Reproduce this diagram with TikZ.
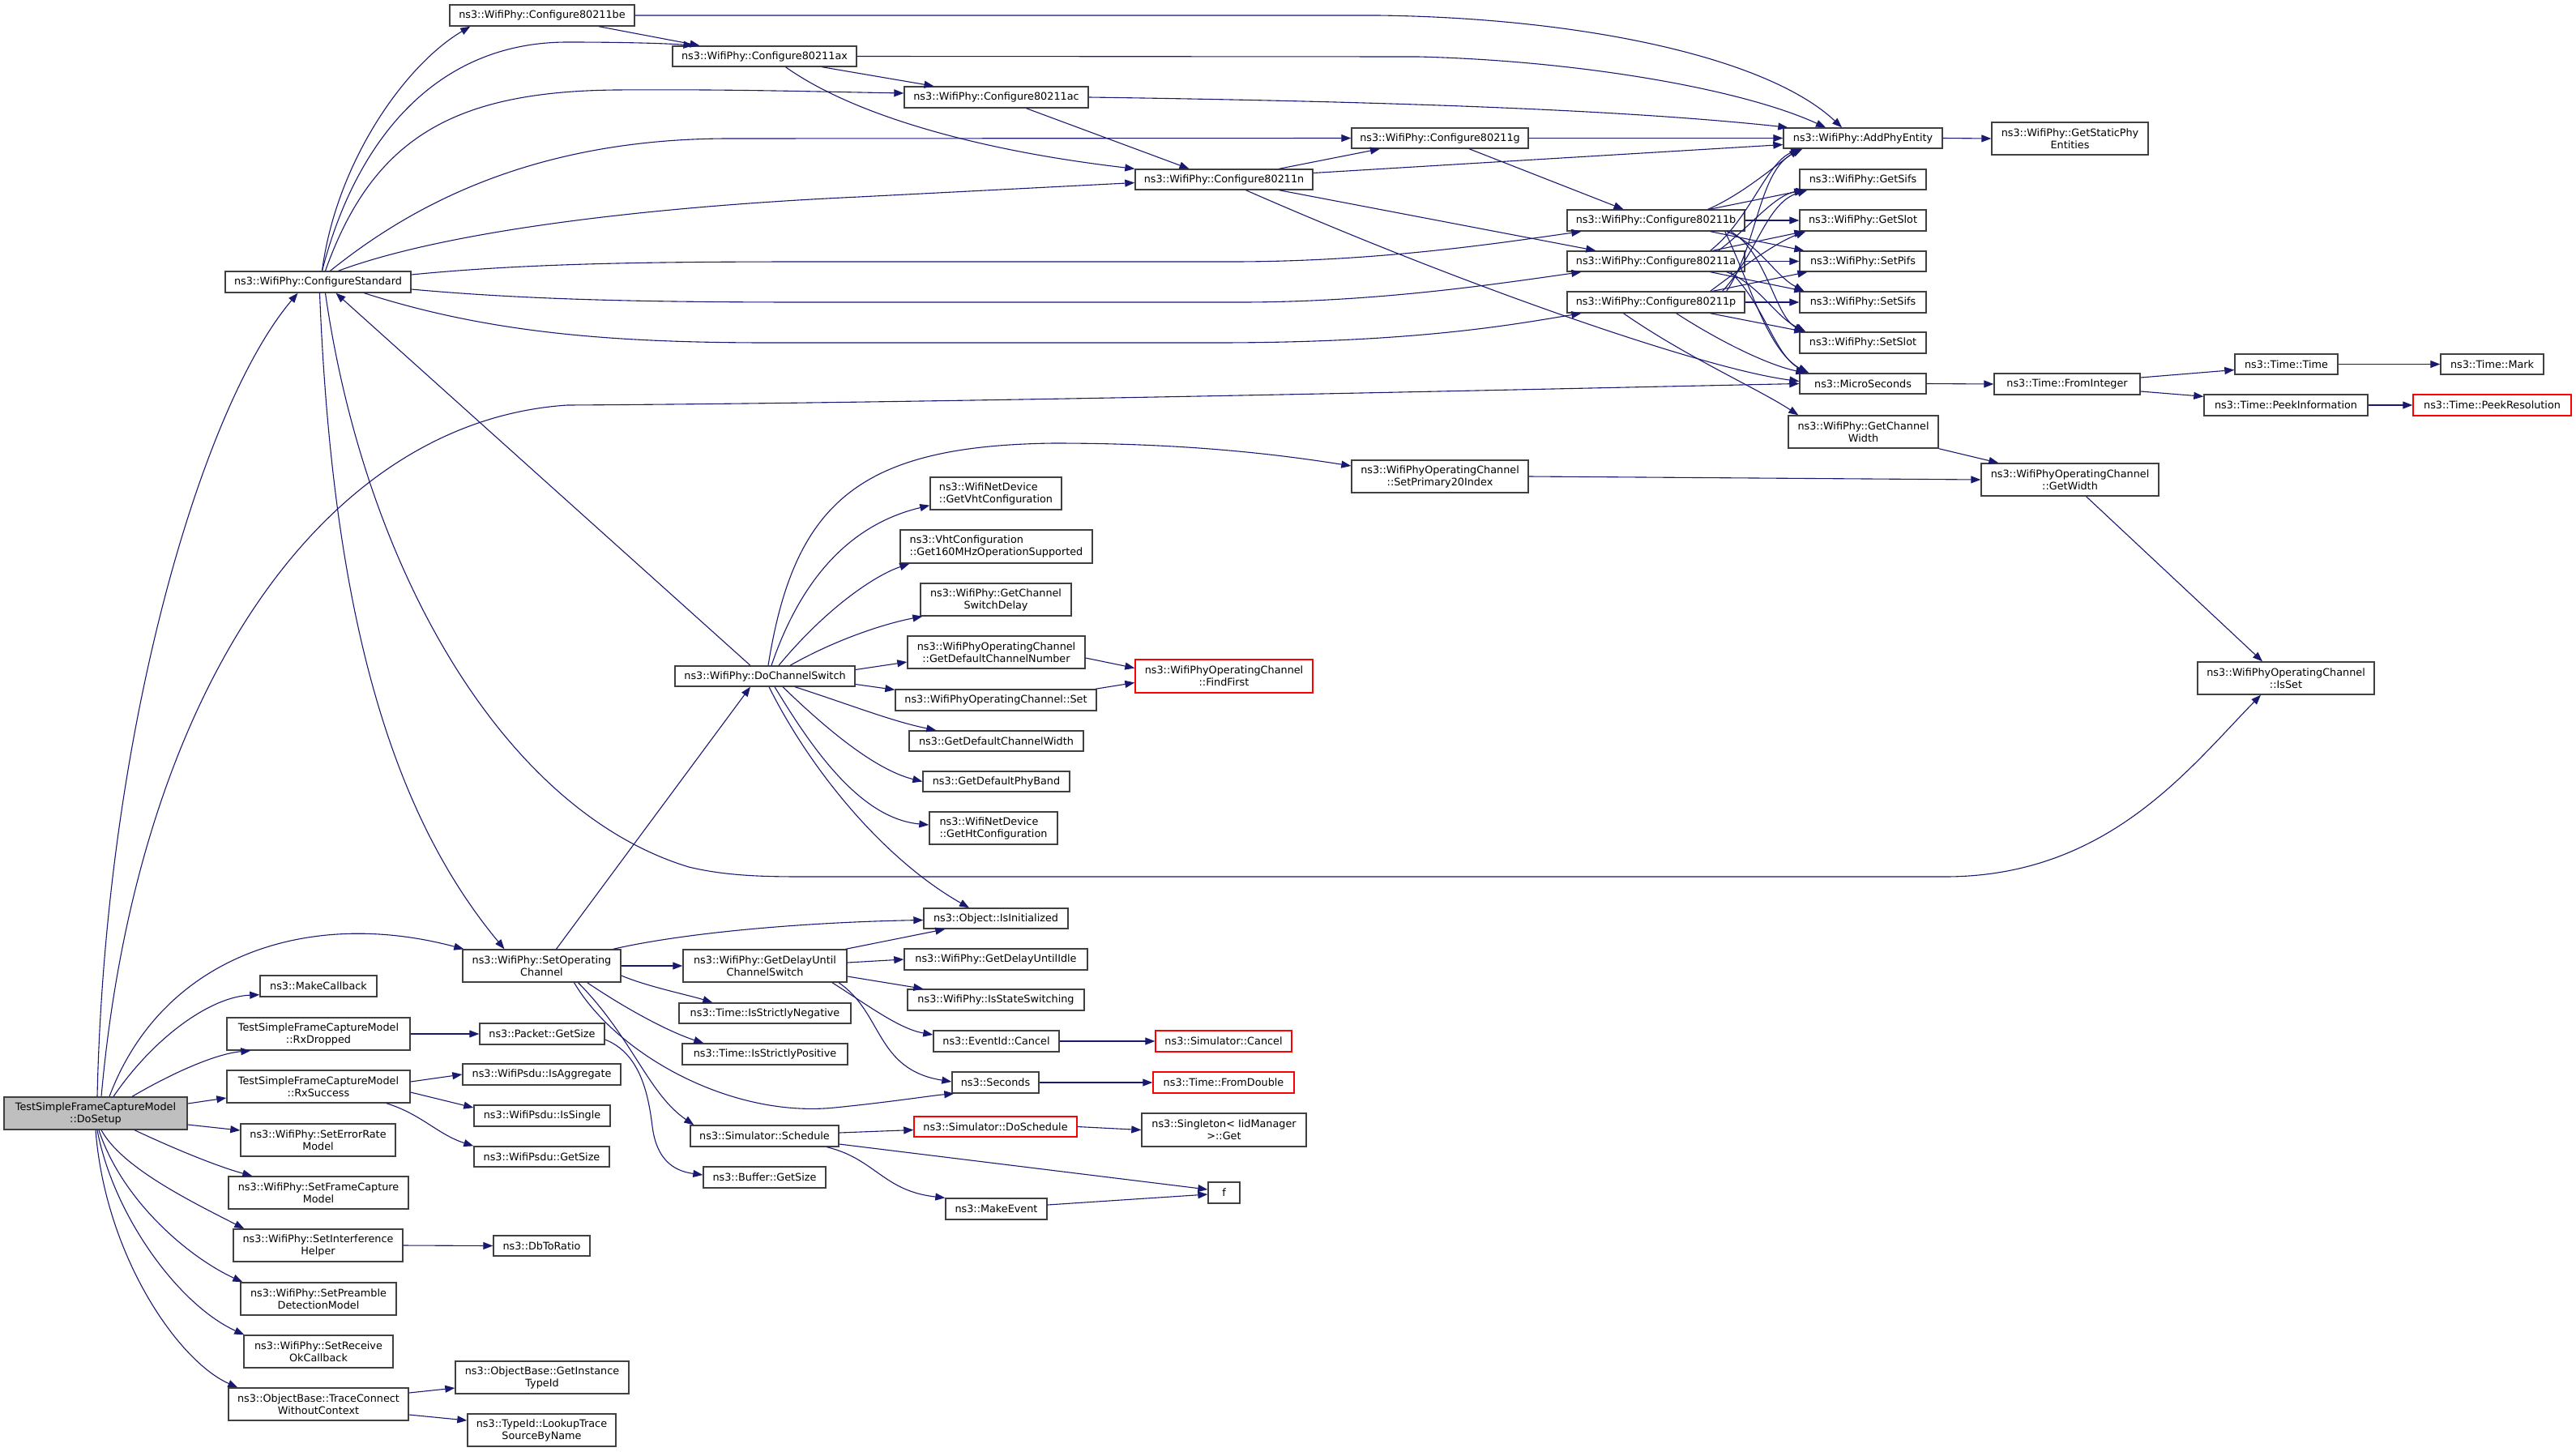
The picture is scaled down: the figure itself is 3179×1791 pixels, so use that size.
\documentclass[tikz,border=0pt]{standalone}
\usepackage{fontspec}
\setmainfont{DejaVu Sans}
\usetikzlibrary{arrows.meta}
\definecolor{edgec}{HTML}{191970}
\definecolor{boxc}{HTML}{404040}
\definecolor{dgrey}{HTML}{BFBFBF}
\definecolor{redc}{HTML}{FF0000}
\tikzset{
 nd/.style={draw=boxc, line width=1.4pt, fill=white, inner sep=0pt, align=center, font=\fontsize{12.8}{15}\selectfont},
 e/.style={draw=edgec, line width=1.1pt, -{Triangle[length=12pt,width=9pt]}},
}
\newcommand\bx[7][]{\node[nd,#1,minimum width={(#5-#3)*1pt},minimum height={(#6-#4)*1pt}] (#2) at ({(#3+#5)/2},{(#4+#6)/2}) {#7};}
\begin{document}
\begin{tikzpicture}[x=1pt,y=-1pt]
\useasboundingbox (0,0) rectangle (3179,1791);
\bx{be}{555}{6}{783}{32}{ns3::WifiPhy::Configure80211be}
\bx{ax}{830}{57}{1057}{82}{ns3::WifiPhy::Configure80211ax}
\bx{ac}{1116}{107}{1343}{133}{ns3::WifiPhy::Configure80211ac}
\bx{g}{1668}{158}{1886}{183}{ns3::WifiPhy::Configure80211g}
\bx{n}{1401}{209}{1620}{234}{ns3::WifiPhy::Configure80211n}
\bx{add}{2201}{158}{2397}{183}{ns3::WifiPhy::AddPhyEntity}
\bx{gsp}{2458}{151}{2651}{191}{ns3::WifiPhy::GetStaticPhy\\Entities}
\bx{gsifs}{2221}{209}{2377}{234}{ns3::WifiPhy::GetSifs}
\bx{gslot}{2221}{259}{2377}{285}{ns3::WifiPhy::GetSlot}
\bx{spifs}{2221}{310}{2377}{335}{ns3::WifiPhy::SetPifs}
\bx{ssifs}{2221}{360}{2377}{386}{ns3::WifiPhy::SetSifs}
\bx{sslot}{2221}{410}{2377}{436}{ns3::WifiPhy::SetSlot}
\bx{b}{1934}{259}{2153}{285}{ns3::WifiPhy::Configure80211b}
\bx{a}{1934}{310}{2153}{335}{ns3::WifiPhy::Configure80211a}
\bx{p}{1934}{360}{2153}{386}{ns3::WifiPhy::Configure80211p}
\bx{micro}{2221}{461}{2377}{486}{ns3::MicroSeconds}
\bx{fromint}{2461}{461}{2641}{487}{ns3::Time::FromInteger}
\bx{ttime}{2758}{437}{2885}{462}{ns3::Time::Time}
\bx{mark}{3012}{437}{3139}{462}{ns3::Time::Mark}
\bx{peekinfo}{2720}{487}{2922}{513}{ns3::Time::PeekInformation}
\bx[draw=redc]{peekres}{2978}{487}{3173}{513}{ns3::Time::PeekResolution}
\bx{gcw}{2207}{513}{2392}{553}{ns3::WifiPhy::GetChannel\\Width}
\bx{gwidth}{2445}{572}{2664}{612}{ns3::WifiPhyOperatingChannel\\::GetWidth}
\bx{isset}{2712}{817}{2930}{857}{ns3::WifiPhyOperatingChannel\\::IsSet}
\bx{sp20}{1668}{568}{1886}{608}{ns3::WifiPhyOperatingChannel\\::SetPrimary20Index}
\bx{cstd}{278}{335}{507}{361}{ns3::WifiPhy::ConfigureStandard}
\bx[align=left]{gvht}{1148}{589}{1310}{629}{ns3::WifiNetDevice\\::GetVhtConfiguration}
\bx[align=left]{g160}{1111}{654}{1348}{695}{ns3::VhtConfiguration\\::Get160MHzOperationSupported}
\bx{gcsd}{1136}{720}{1322}{760}{ns3::WifiPhy::GetChannel\\SwitchDelay}
\bx{gdcn}{1120}{785}{1339}{825}{ns3::WifiPhyOperatingChannel\\::GetDefaultChannelNumber}
\bx[draw=redc]{ffirst}{1401}{814}{1620}{855}{ns3::WifiPhyOperatingChannel\\::FindFirst}
\bx{set}{1105}{851}{1353}{877}{ns3::WifiPhyOperatingChannel::Set}
\bx{gdcw}{1122}{902}{1337}{927}{ns3::GetDefaultChannelWidth}
\bx{gdpb}{1139}{952}{1320}{977}{ns3::GetDefaultPhyBand}
\bx[align=left]{ght}{1147}{1002}{1305}{1042}{ns3::WifiNetDevice\\::GetHtConfiguration}
\bx{dcs}{833}{822}{1055}{847}{ns3::WifiPhy::DoChannelSwitch}
\bx{isinit}{1140}{1121}{1318}{1146}{ns3::Object::IsInitialized}
\bx{soc}{571}{1172}{766}{1212}{ns3::WifiPhy::SetOperating\\Channel}
\bx{gduc}{843}{1172}{1045}{1212}{ns3::WifiPhy::GetDelayUntil\\ChannelSwitch}
\bx{gdui}{1116}{1171}{1342}{1197}{ns3::WifiPhy::GetDelayUntilIdle}
\bx{iss}{1120}{1221}{1338}{1247}{ns3::WifiPhy::IsStateSwitching}
\bx{isn}{838}{1238}{1050}{1263}{ns3::Time::IsStrictlyNegative}
\bx{isp}{842}{1288}{1046}{1314}{ns3::Time::IsStrictlyPositive}
\bx{evc}{1152}{1272}{1307}{1298}{ns3::EventId::Cancel}
\bx[draw=redc]{simc}{1426}{1272}{1594}{1298}{ns3::Simulator::Cancel}
\bx{sec}{1175}{1323}{1282}{1349}{ns3::Seconds}
\bx[draw=redc]{fdbl}{1423}{1323}{1597}{1349}{ns3::Time::FromDouble}
\bx{sched}{852}{1389}{1035}{1415}{ns3::Simulator::Schedule}
\bx[draw=redc]{dosch}{1128}{1378}{1329}{1403}{ns3::Simulator::DoSchedule}
\bx{singl}{1409}{1374}{1612}{1415}{ns3::Singleton< IidManager\\>::Get}
\bx{f}{1491}{1459}{1530}{1485}{f}
\bx{mkev}{1167}{1479}{1292}{1505}{ns3::MakeEvent}
\bx{bgs}{868}{1440}{1019}{1466}{ns3::Buffer::GetSize}
\bx{mkcb}{321}{1204}{465}{1230}{ns3::MakeCallback}
\bx{rxd}{280}{1256}{506}{1296}{TestSimpleFrameCaptureModel\\::RxDropped}
\bx{pgs}{592}{1263}{746}{1289}{ns3::Packet::GetSize}
\bx{rxs}{280}{1321}{506}{1361}{TestSimpleFrameCaptureModel\\::RxSuccess}
\bx{isagg}{571}{1313}{766}{1339}{ns3::WifiPsdu::IsAggregate}
\bx{issing}{585}{1364}{753}{1390}{ns3::WifiPsdu::IsSingle}
\bx{wgs}{585}{1415}{752}{1440}{ns3::WifiPsdu::GetSize}
\bx[fill=dgrey]{dosetup}{5}{1354}{231}{1394}{TestSimpleFrameCaptureModel\\::DoSetup}
\bx{serm}{297}{1387}{488}{1427}{ns3::WifiPhy::SetErrorRate\\Model}
\bx{sfcm}{282}{1452}{504}{1492}{ns3::WifiPhy::SetFrameCapture\\Model}
\bx{sih}{288}{1517}{497}{1557}{ns3::WifiPhy::SetInterference\\Helper}
\bx{dbr}{609}{1525}{728}{1550}{ns3::DbToRatio}
\bx{spdm}{297}{1583}{489}{1623}{ns3::WifiPhy::SetPreamble\\DetectionModel}
\bx{srok}{301}{1648}{485}{1688}{ns3::WifiPhy::SetReceive\\OkCallback}
\bx{tcwc}{282}{1713}{504}{1753}{ns3::ObjectBase::TraceConnect\\WithoutContext}
\bx{giti}{562}{1680}{776}{1720}{ns3::ObjectBase::GetInstance\\TypeId}
\bx{ltsn}{577}{1745}{760}{1785}{ns3::TypeId::LookupTrace\\SourceByName}
% ConfigureStandard
\draw[e] ([xshift=5pt]cstd.north) .. controls (415,200) and (500,80) .. ([xshift=26pt]be.south west);
\draw[e] ([xshift=5pt]cstd.north) .. controls (440,170) and (540,52) .. (700,52) .. controls (780,52) and (830,54) .. ([xshift=-88pt]ax.north);
\draw[e] ([xshift=9pt]cstd.north) .. controls (460,170) and (560,113) .. (760,111) .. controls (900,110) and (1000,113) .. ([yshift=5pt]ac.west);
\draw[e] ([xshift=15pt]cstd.north) .. controls (500,260) and (650,171) .. (900,171) -- (g.west);
\draw[e] ([xshift=25pt]cstd.north) .. controls (550,285) and (800,255) .. (1060,243) -- ([yshift=-4pt]n.west);
\draw[e] ([yshift=9pt]cstd.east) .. controls (650,325) and (800,323) .. (1000,323) -- (1520,323) .. controls (1700,323) and (1850,300) .. ([xshift=18pt]b.south west);
\draw[e] ([yshift=-9pt]cstd.east) .. controls (650,370) and (800,373) .. (1000,373) -- (1530,373) .. controls (1700,373) and (1850,350) .. ([xshift=18pt]a.south west);
\draw[e] ([xshift=57pt]cstd.south) .. controls (600,410) and (750,423) .. (950,423) -- (1500,423) .. controls (1750,423) and (1870,400) .. ([xshift=18pt]p.south west);
\draw[e] ([xshift=2pt]cstd.south) .. controls (410,750) and (480,1000) .. ([xshift=-46pt]soc.north);
\draw[e] ([xshift=9pt]cstd.south) .. controls (450,700) and (620,1000) .. (850,1070) .. controls (900,1082) and (950,1082) .. (1000,1082) -- (2400,1082) .. controls (2600,1082) and (2700,950) .. ([xshift=-31pt]isset.south);
% DoSetup
\draw[e] ([xshift=2pt]dosetup.north) .. controls (130,900) and (250,500) .. ([xshift=-25pt]cstd.south);
\draw[e] ([xshift=7pt]dosetup.north) .. controls (170,850) and (400,520) .. (700,500) .. controls (1200,497) and (1900,480) .. (micro.west);
\draw[e] ([xshift=17pt]dosetup.north) .. controls (200,1180) and (380,1120) .. ([xshift=2pt]soc.north west);
\draw[e] ([xshift=22pt]dosetup.north) .. controls (190,1280) and (260,1230) .. ([yshift=3pt]mkcb.south west);
\draw[e] ([xshift=45pt]dosetup.north) .. controls (220,1320) and (270,1300) .. ([xshift=30pt]rxd.south west);
\draw[e] ([yshift=12pt]dosetup.east) -- ([yshift=-14pt]rxs.west);
\draw[e] ([yshift=-14pt]dosetup.east) -- ([yshift=12pt]serm.west);
\draw[e] ([xshift=48pt]dosetup.south) .. controls (220,1420) and (270,1440) .. ([xshift=30pt]sfcm.north west);
\draw[e] ([xshift=7pt]dosetup.south) .. controls (150,1440) and (230,1480) .. ([xshift=14pt]sih.north west);
\draw[e] ([xshift=4pt]dosetup.south) .. controls (150,1480) and (230,1550) .. ([xshift=3pt]spdm.north west);
\draw[e] ([xshift=2pt]dosetup.south) .. controls (140,1500) and (220,1610) .. ([xshift=1pt]srok.north west);
\draw[e] (dosetup.south) .. controls (130,1550) and (220,1680) .. ([xshift=12pt]tcwc.north west);
% Configure family
\draw[e] ([xshift=70pt]be.south) -- ([xshift=-80pt]ax.north);
\draw[e] (be.east) -- (1700,19) .. controls (1950,22) and (2180,70) .. ([xshift=-26pt]add.north);
\draw[e] (ax.east) -- (1750,70) .. controls (1950,75) and (2150,110) .. ([xshift=-46pt]add.north);
\draw[e] ([xshift=71pt]ax.south) -- ([xshift=-77pt]ac.north);
\draw[e] ([xshift=26pt]ax.south) .. controls (1050,140) and (1200,185) .. (n.north west);
\draw[e] (ac.east) .. controls (1700,125) and (2000,135) .. ([xshift=6pt]add.north west);
\draw[e] ([xshift=37pt]ac.south) -- ([xshift=-43pt]n.north);
\draw[e] (g.east) -- (add.west);
\draw[e] ([xshift=68pt]n.north) -- ([xshift=-74pt]g.south);
\draw[e] ([yshift=8pt]n.east) -- ([yshift=-8pt]add.west);
\draw[e] ([xshift=36pt]g.south) -- ([xshift=-40pt]b.north);
\draw[e] ([xshift=68pt]n.south) -- ([xshift=36pt]a.north west);
\draw[e] ([xshift=27pt]n.south) .. controls (1800,350) and (2100,455) .. ([yshift=3pt]micro.west);
% b
\draw[e] ([xshift=-46pt]b.north east) .. controls (2150,240) and (2190,205) .. ([xshift=20pt]add.south west);
\draw[e] ([xshift=-44pt]b.north east) -- ([xshift=6pt]gsifs.south west);
\draw[e] (b.east) -- (gslot.west);
\draw[e] ([xshift=-43pt]b.south east) -- ([xshift=6pt]spifs.north west);
\draw[e] ([xshift=-23pt]b.south east) .. controls (2170,300) and (2190,340) .. ([xshift=6pt]ssifs.north west);
\draw[e] ([xshift=-18pt]b.south east) .. controls (2180,310) and (2190,390) .. ([xshift=6pt]sslot.north west);
\draw[e] ([xshift=-25pt]b.south east) .. controls (2160,350) and (2180,430) .. ([xshift=10pt]micro.north west);
% a
\draw[e] ([xshift=-43pt]a.north east) .. controls (2160,270) and (2180,200) .. ([xshift=22pt]add.south west);
\draw[e] ([xshift=-33pt]a.north east) .. controls (2160,280) and (2190,240) .. ([xshift=8pt]gsifs.south west);
\draw[e] ([xshift=-40pt]a.north east) -- ([xshift=6pt]gslot.south west);
\draw[e] (a.east) -- (spifs.west);
\draw[e] ([xshift=-43pt]a.south east) -- ([xshift=6pt]ssifs.north west);
\draw[e] ([xshift=-23pt]a.south east) .. controls (2170,350) and (2190,390) .. ([xshift=8pt]sslot.north west);
\draw[e] ([xshift=-18pt]a.south east) .. controls (2180,380) and (2190,440) .. ([xshift=12pt]micro.north west);
% p
\draw[e] ([xshift=-23pt]p.north east) .. controls (2170,300) and (2170,210) .. ([xshift=24pt]add.south west);
\draw[e] ([xshift=-28pt]p.north east) .. controls (2170,310) and (2180,250) .. ([xshift=10pt]gsifs.south west);
\draw[e] ([xshift=-43pt]p.north east) .. controls (2150,330) and (2190,300) .. ([xshift=8pt]gslot.south west);
\draw[e] ([xshift=-40pt]p.north east) -- ([xshift=10pt]spifs.south west);
\draw[e] (p.east) -- (ssifs.west);
\draw[e] ([xshift=-43pt]p.south east) -- ([xshift=6pt]sslot.north west);
\draw[e] ([xshift=-85pt]p.south east) .. controls (2120,420) and (2180,450) .. ([xshift=8pt]micro.north west);
\draw[e] ([xshift=-40pt]p.south) .. controls (2080,440) and (2170,480) .. ([xshift=13pt]gcw.north west);
% right side
\draw[e] (add.east) -- (gsp.west);
\draw[e] (micro.east) -- (fromint.west);
\draw[e] ([yshift=8pt]fromint.east) -- ([yshift=-7pt]ttime.west);
\draw[e] ([yshift=-9pt]fromint.east) -- ([yshift=-3pt]peekinfo.north west);
\draw[e] (ttime.east) -- (mark.west);
\draw[e] (peekinfo.east) -- (peekres.west);
\draw[e] (gcw.south east) -- ([xshift=22pt]gwidth.north west);
\draw[e] (sp20.east) -- (gwidth.west);
\draw[e] ([xshift=20pt]gwidth.south) -- ([xshift=-29pt]isset.north);
% DoChannelSwitch
\draw[e] ([xshift=-18pt]dcs.north) -- ([xshift=22pt]cstd.south);
\draw[e] ([xshift=4pt]dcs.north) .. controls (980,620) and (1060,550) .. (1300,547) .. controls (1450,547) and (1560,558) .. ([yshift=13pt]sp20.west);
\draw[e] ([xshift=8pt]dcs.north) .. controls (1000,680) and (1080,640) .. ([yshift=6pt]gvht.south west);
\draw[e] ([xshift=17pt]dcs.north) .. controls (1020,750) and (1080,710) .. ([xshift=12pt]g160.south west);
\draw[e] ([xshift=31pt]dcs.north) .. controls (1030,790) and (1090,770) .. ([xshift=3pt]gcsd.south west);
\draw[e] ([yshift=8pt]dcs.east) -- ([yshift=-12pt]gdcn.west);
\draw[e] ([yshift=-10pt]dcs.east) -- ([yshift=-1pt]set.north west);
\draw[e] ([xshift=37pt]dcs.south) .. controls (1050,870) and (1100,890) .. ([xshift=34pt]gdcw.north west);
\draw[e] ([xshift=22pt]dcs.south) .. controls (1020,900) and (1080,950) .. (gdpb.west);
\draw[e] ([xshift=12pt]dcs.south) .. controls (1000,920) and (1060,1010) .. ([yshift=4pt]ght.west);
\draw[e] ([xshift=5pt]dcs.south) .. controls (1000,950) and (1090,1060) .. ([xshift=-33pt]isinit.north);
\draw[e] ([yshift=-7pt]gdcn.east) -- ([yshift=10pt]ffirst.west);
\draw[e] ([xshift=-2pt]set.north east) -- ([yshift=-8pt]ffirst.west);
% SetOperatingChannel
\draw[e] ([xshift=18pt]soc.north) -- ([xshift=-18pt]dcs.south);
\draw[e] ([xshift=-10pt]soc.north east) .. controls (850,1150) and (1000,1138) .. ([yshift=-2pt]isinit.west);
\draw[e] (soc.east) -- (gduc.west);
\draw[e] ([yshift=-12pt]soc.east) .. controls (800,1218) and (850,1228) .. ([xshift=42pt]isn.north west);
\draw[e] ([xshift=-42pt]soc.south east) .. controls (780,1250) and (830,1275) .. ([xshift=27pt]isp.north west);
\draw[e] ([xshift=40pt]soc.south) .. controls (760,1300) and (900,1380) .. (1030,1367) .. controls (1100,1360) and (1150,1352) .. ([xshift=3pt]sec.south west);
\draw[e] ([xshift=45pt]soc.south) .. controls (780,1280) and (800,1350) .. ([xshift=5pt]sched.north west);
% GetDelayUntilChannelSwitch
\draw[e] ([xshift=-2pt]gduc.north east) -- ([xshift=27pt]isinit.south west);
\draw[e] ([yshift=4pt]gduc.east) -- (gdui.west);
\draw[e] ([yshift=-13pt]gduc.east) -- ([xshift=20pt]iss.north west);
\draw[e] ([xshift=83pt]gduc.south) .. controls (1070,1240) and (1110,1270) .. ([yshift=8pt]evc.west);
\draw[e] ([xshift=91pt]gduc.south) .. controls (1090,1250) and (1080,1320) .. ([yshift=1pt]sec.west);
\draw[e] (evc.east) -- (simc.west);
\draw[e] (sec.east) -- (fdbl.west);
% Schedule
\draw[e] ([yshift=4pt]sched.east) -- ([yshift=-4pt]dosch.west);
\draw[e] ([yshift=-10pt]sched.east) -- ([yshift=4pt]f.west);
\draw[e] ([xshift=77pt]sched.south) .. controls (1080,1430) and (1090,1470) .. (mkev.north west);
\draw[e] ([yshift=5pt]mkev.east) -- ([yshift=-2pt]f.west);
\draw[e] (dosch.east) -- (singl.west);
% lower left
\draw[e] (rxd.east) -- (pgs.west);
\draw[e] ([yshift=6pt]rxs.east) -- (isagg.west);
\draw[e] ([yshift=-7pt]rxs.east) -- ([yshift=10pt]issing.west);
\draw[e] ([xshift=84pt]rxs.south) .. controls (520,1375) and (540,1400) .. (wgs.north west);
\draw[e] ([yshift=-7pt]pgs.east) .. controls (790,1300) and (800,1350) .. (805,1390) .. controls (810,1430) and (830,1445) .. ([yshift=3pt]bgs.west);
\draw[e] (sih.east) -- (dbr.west);
\draw[e] ([yshift=14pt]tcwc.east) -- ([yshift=-13pt]giti.west);
\draw[e] ([yshift=-13pt]tcwc.east) -- ([yshift=12pt]ltsn.west);
\end{tikzpicture}
\end{document}
